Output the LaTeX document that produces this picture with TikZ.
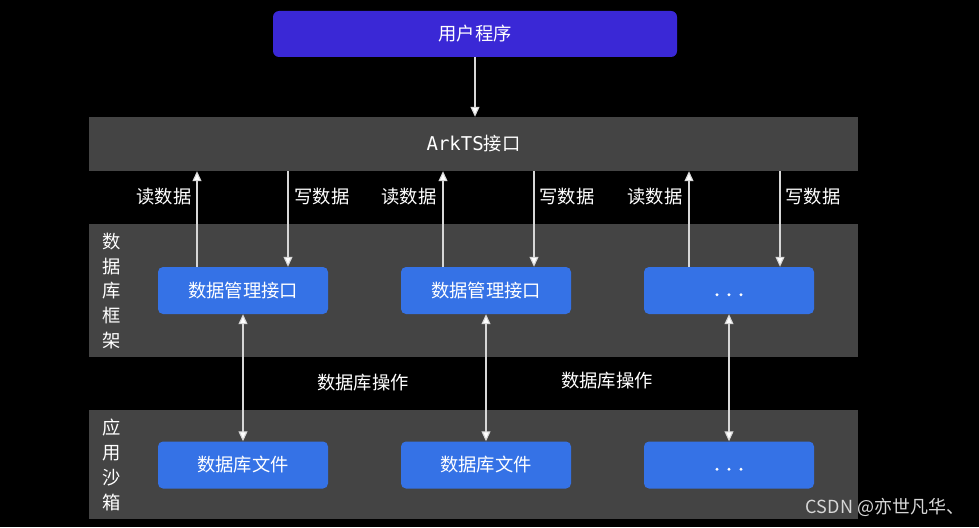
\documentclass[tikz,border=0pt]{standalone}
\usepackage{fontspec}
\usepackage{tikz}
\usetikzlibrary{arrows.meta}
\setmainfont{Noto Sans CJK SC}
\newfontfamily\arkmono{DejaVu Sans Mono}
\definecolor{bgbar}{RGB}{68,68,68}
\definecolor{appblue}{RGB}{58,40,214}
\definecolor{boxblue}{RGB}{53,114,230}
\definecolor{linegray}{RGB}{215,215,215}
\newcommand{\moredots}{\tikz{\path (0,10pt); \foreach \d in {0,12,24} \fill[white] (\d pt,0) circle (1.6pt);}}

\begin{document}
\begin{tikzpicture}[x=1pt,y=1pt,yscale=-1,xscale=1,
  every node/.style={text=white,font=\fontsize{18.3}{22}\selectfont},
  bar/.style={fill=bgbar,draw=none,inner sep=0pt},
  bluebox/.style={fill=boxblue,rounded corners=5pt,minimum width=170pt,minimum height=47pt,inner sep=0pt},
  rw/.style={draw=linegray,line width=1.1pt,-{Triangle[width=9pt,length=10pt,fill=white]}},
  dbop/.style={draw=linegray,line width=1.1pt,{Triangle[width=9pt,length=10pt,fill=white]}-{Triangle[width=9pt,length=10pt,fill=white]}},
  sidelbl/.style={align=center,font=\fontsize{18.3}{24.8}\selectfont}]
%background
\fill[black] (0,0) rectangle (979,527);
\useasboundingbox (0,0) rectangle (979,527);

%Shape: gray layers
\node[bar,minimum width=769pt,minimum height=54pt] (arkts) at (473.5,144) {{\arkmono\fontsize{19}{22}\selectfont ArkTS}接口};
\fill[bgbar] (89,224) rectangle (858,357);
\fill[bgbar] (89,410) rectangle (858,519);

%Shape: user program
\node[fill=appblue,rounded corners=6pt,minimum width=404pt,minimum height=46pt,inner sep=0pt] (app) at (475,34) {用户程序};

%Shape: data manage boxes
\node[bluebox] (dm1) at (243,290.5) {数据管理接口};
\node[bluebox] (dm2) at (486,290.5) {数据管理接口};
\node[bluebox] (dm3) at (729,290.5) {\moredots};

%Shape: db files
\node[bluebox] (df1) at (243,465) {数据库文件};
\node[bluebox] (df2) at (486,465) {数据库文件};
\node[bluebox] (df3) at (729,465) {\moredots};

%Straight Lines
\draw[rw] (app.south) -- (app.south |- arkts.north);
\draw[rw] ([xshift=-46pt]dm1.north) -- ([xshift=-46pt]dm1.north |- arkts.south);
\draw[rw] ([xshift=45pt]dm1.north |- arkts.south) -- ([xshift=45pt]dm1.north);
\draw[rw] ([xshift=-43pt]dm2.north) -- ([xshift=-43pt]dm2.north |- arkts.south);
\draw[rw] ([xshift=48pt]dm2.north |- arkts.south) -- ([xshift=48pt]dm2.north);
\draw[rw] ([xshift=-40pt]dm3.north) -- ([xshift=-40pt]dm3.north |- arkts.south);
\draw[rw] ([xshift=51pt]dm3.north |- arkts.south) -- ([xshift=51pt]dm3.north);
\draw[dbop] (dm1.south) -- (df1.north);
\draw[dbop] (dm2.south) -- (df2.north);
\draw[dbop] (dm3.south) -- (df3.north);

% Text Node
\node (rd1) at (164,197) {读数据};
\node (wr1) at (322,197) {写数据};
\node (rd2) at (409,197) {读数据};
\node (wr2) at (567,197) {写数据};
\node (rd3) at (655,197) {读数据};
\node (wr3) at (813,197) {写数据};
\node (op1) at (363,383) {数据库操作};
\node (op2) at (607,381) {数据库操作};
\node[sidelbl] (fw) at (112,291) {数\\据\\库\\框\\架};
\node[sidelbl] (sb) at (112,465) {应\\用\\沙\\箱};
\node[text=linegray,font=\fontsize{18}{20}\selectfont] (mark) at (885,507) {CSDN @亦世凡华、};
\end{tikzpicture}
\end{document}
